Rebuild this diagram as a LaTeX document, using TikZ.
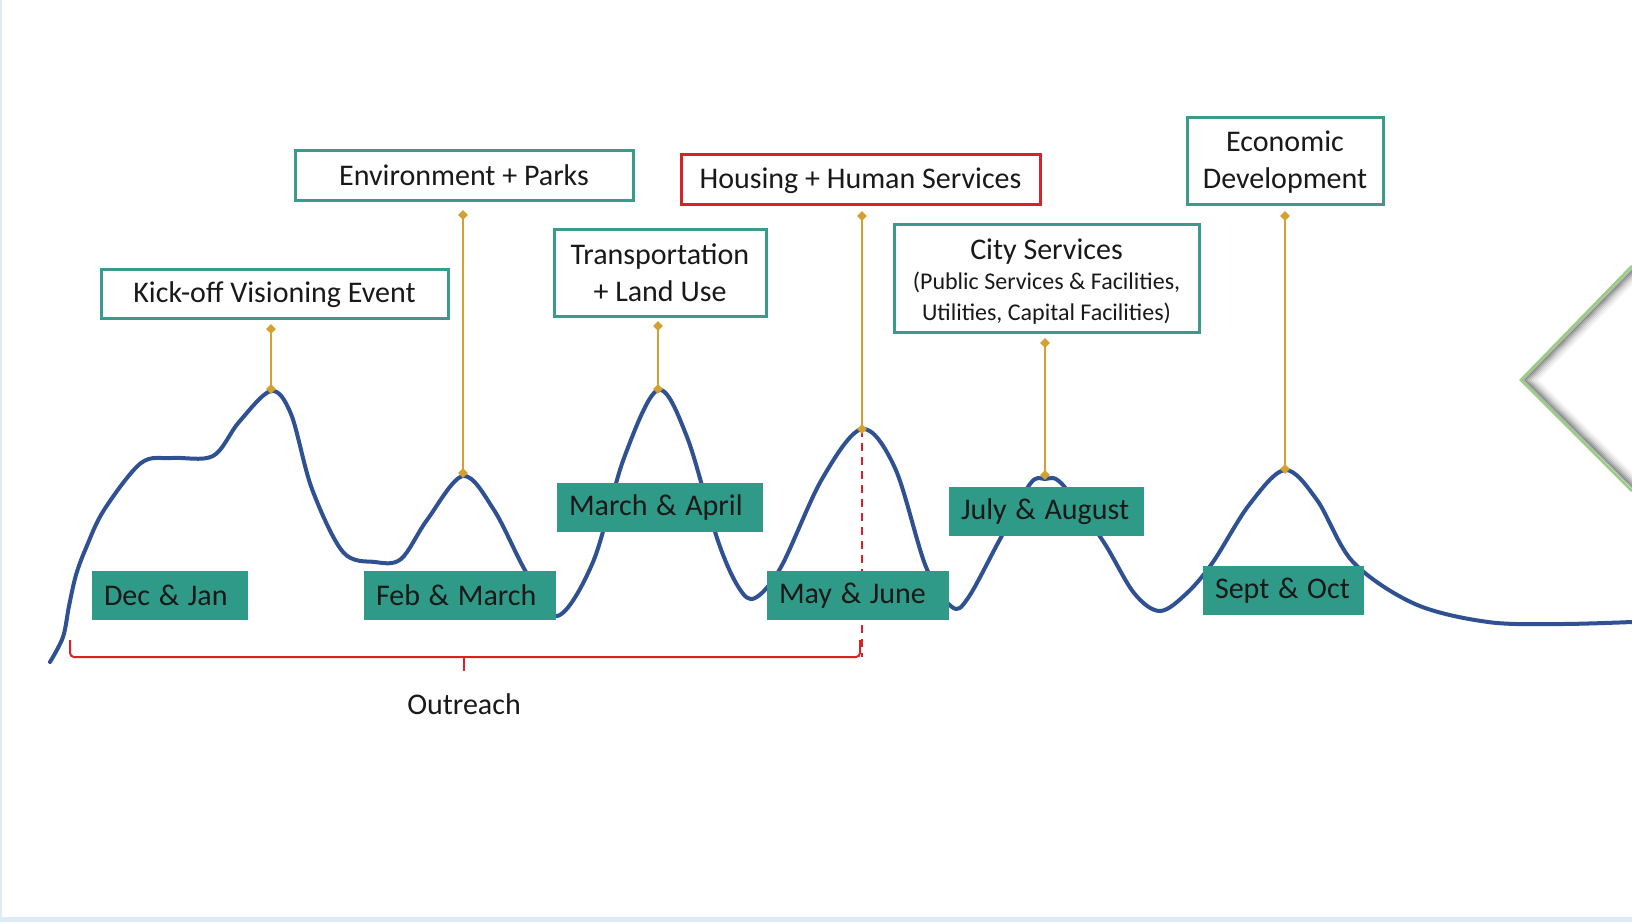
\documentclass[tikz,border=0pt]{standalone}
\usepackage{fontspec}
\setmainfont{Carlito}
\usetikzlibrary{shapes.geometric,calc}
\definecolor{tealline}{RGB}{58,154,140}
\definecolor{tealfill}{RGB}{48,154,136}
\definecolor{curveblue}{RGB}{47,80,145}
\definecolor{gold}{RGB}{212,160,48}
\definecolor{redline}{RGB}{214,35,40}
\definecolor{chevgreen}{RGB}{156,203,134}
\definecolor{bgblue}{RGB}{221,235,247}
\definecolor{txt}{RGB}{25,25,25}
\tikzset{
  outbox/.style={draw=tealline, line width=1.5pt, fill=white, text=txt, font=\fontsize{15}{18.7}\selectfont, align=center, inner sep=0pt},
  redbox/.style={outbox, draw=redline},
  fillbox/.style={fill=tealfill, text=txt, font=\fontsize{15}{18}\selectfont, execute at begin node={\spaceskip=0.29em\relax}, align=flush left, inner xsep=6pt, inner ysep=0pt, minimum height=24.5pt},
  goldline/.style={draw=gold, line width=0.9pt},
  golddot/.style={diamond, fill=gold, inner sep=0pt, minimum size=5pt},
  curve/.style={draw=curveblue, line width=2pt, line cap=round, line join=round},
  bracket/.style={draw=redline, line width=1pt}
}
\begin{document}
\begin{tikzpicture}[x=0.5pt,y=-0.5pt]
\useasboundingbox (0,0) rectangle (1632,922);
\fill[white] (0,0) rectangle (1632,922);
% faint background edges
\fill[bgblue] (0,0) rectangle (1.5,922);
\fill[bgblue] (0,917) rectangle (1632,922);
% green chevron with shadow
\foreach \i/\o in {1/0.30,2/0.24,3/0.18,4/0.13,5/0.09,6/0.06,7/0.04,8/0.02}{
  \draw[black, opacity=\o, line width=1.2pt] ($(1632,268)+(2*\i,0)$) -- ($(1522,380)+(2*\i,0)$) -- ($(1632,489)+(2*\i,0)$);
}
\draw[chevgreen, line width=1.4pt] (1632,266) -- (1521,380) -- (1632,491);
% main curve
\draw[curve] plot[smooth, tension=0.55] coordinates {
 (50,662) (63,637) (69,606) (76,575) (86,548) (104,510) (141,463) (172,458) (213,456)
 (239,422) (271,391) (291,414) (312,489) (343,552) (375,562) (401,559)
 (427,520) (463,476) (494,510) (526,572) (557,616) (593,562) (624,458)
 (658,390) (687,437) (718,541) (739,588) (755,598) (781,567) (822,479)
 (862,429) (895,468) (926,567) (952,607) (968,598) (999,541) (1030,484)
 (1045,479) (1062,484) (1103,541) (1134,593) (1160,611) (1187,593)
 (1213,562) (1249,505) (1285,470) (1317,500) (1353,562) (1415,604)
 (1488,622) (1561,624) (1632,622)};
% dashed red marker
\coordinate (hpeak) at (862,429);
\coordinate (brR) at (860,640);
\coordinate (brRb) at (862,657);
\draw[redline, line width=0.8pt, dashed, dash pattern=on 4pt off 3pt] (hpeak) -- (brRb);
% outreach bracket
\coordinate (brL) at (70,640);
\coordinate (brM) at (464,657);
\coordinate (brMb) at (464,671);
\draw[bracket, rounded corners=2pt] (brL) -- (70,657) -- (860,657) -- (brR);
\draw[bracket] (brM) -- (brMb);
\node[font=\fontsize{15}{18}\selectfont, text=txt] (outreach) at (464,704) {Outreach};
% filled month labels
\node[fillbox, text width=66pt] (dec) at (170,595.5) {Dec \& Jan};
\node[fillbox, text width=84pt] (feb) at (460,595.5) {Feb \& March};
\node[fillbox, text width=91pt] (mar) at (660,507.5) {March \& April};
\node[fillbox, text width=79pt] (may) at (858,595.5) {May \& June};
\node[fillbox, text width=85.5pt] (jul) at (1046.5,511.5) {July \& August};
\node[fillbox, text width=68.5pt] (sep) at (1283.5,590.5) {\mbox{Sept \& Oct}};
% topic boxes
\node[outbox, minimum width=173.5pt, minimum height=24.5pt] (kick) at (274.5,293.5) {\rule{0pt}{12pt}Kick-off Visioning Event};
\node[outbox, minimum width=169pt, minimum height=25pt] (env) at (464,175) {Environment + Parks};
\node[outbox, minimum width=106pt, minimum height=43.5pt] (trans) at (660,272.5) {Transportation\\+ Land Use};
\node[redbox, minimum width=179.5pt, minimum height=25pt] (house) at (860.5,179) {\rule{0pt}{12.5pt}Housing + Human Services};
\node[outbox, minimum width=152.5pt, minimum height=54pt] (city) at (1046.5,278) {\rule{0pt}{14pt}City Services\\[-4pt]{\fontsize{12}{14.6}\selectfont (Public Services \& Facilities,}\\[-3pt]{\fontsize{12}{14.6}\selectfont Utilities, Capital Facilities)}};
\node[outbox, minimum width=98pt, minimum height=43.5pt] (econ) at (1285,160.5) {\rule{0pt}{12pt}Economic\\Development};
% gold connectors
\foreach \n/\x/\ya/\yb in {k/271/329/389, e/463/215/473, t/658/326/389, h/862/216/429, c/1045/343/475, d/1285/216/469}{
  \coordinate (\n top) at (\x,\ya);
  \coordinate (\n bot) at (\x,\yb);
  \draw[goldline] (\n top) -- (\n bot);
  \node[golddot] at (\n top) {};
  \node[golddot] at (\n bot) {};
}
\end{tikzpicture}
\end{document}
